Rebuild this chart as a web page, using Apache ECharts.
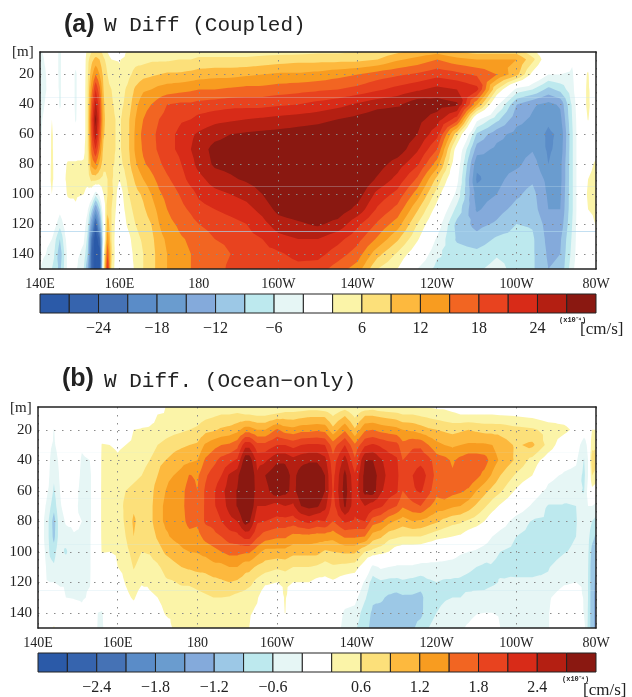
<!DOCTYPE html>
<html>
<head>
<meta charset="utf-8">
<script src="https://cdn.jsdelivr.net/npm/echarts@6/dist/echarts.min.js"></script>
<style>html,body{margin:0;padding:0;background:#fff}</style>
</head>
<body>
<div id="main" style="width:632px;height:697px"></div>
<script>
const lonLabels = ['140E', '160E', '180', '160W', '140W', '120W', '100W', '80W'];
const depthTicks = [20, 40, 60, 80, 100, 120, 140];
const depths = [5, 10, 20, 30, 40, 50, 60, 70, 80, 90, 100, 110, 120, 130, 140, 150];

const barLabelsA = ['', '', '−24', '', '−18', '', '−12', '', '−6', '', '', '6', '', '12', '', '18', '', '24', '', ''];
const barLabelsB = ['', '', '−2.4', '', '−1.8', '', '−1.2', '', '−0.6', '', '', '0.6', '', '1.2', '', '1.8', '', '2.4', '', ''];

// band edges
const levelsA = [3, 6, 9, 12, 15, 18, 21, 24, 27];
const levelsB = [0.3, 0.6, 0.9, 1.2, 1.5, 1.8, 2.1, 2.4, 2.7];
const warmColors = ['#fbf4a8', '#fce07a', '#fdb93e', '#f89c20', '#f26522', '#e8431f', '#d82b18', '#b41f12', '#8a1811'];
const coolColors = ['#e6f6f5', '#bde9ee', '#9cc8e6', '#84aadb', '#6a9ccf', '#5a8cc8', '#4572b5', '#3664ae', '#2b5aa8'];

// (a) one line = one longitude, top to bottom in depth
const lonsA = [140, 143, 145, 147, 149, 151, 152, 153, 154, 155, 156, 157, 158, 160, 162, 164, 166, 168, 170, 172, 175, 178, 180, 184, 188, 192, 196, 200, 205, 210, 215, 220, 225, 230, 235, 240, 245, 250, 255, 260, 264, 268, 271, 274, 276, 278, 280];
const profilesA = [
  [-3.5, -4, -5, -6.5, -6, -4.5, -4, -3.5, -2, -1, -1, -2, -2, -2, -2, -3],
  [-1, -1, -1, 0, 2, 3, 3.5, 3.5, 3.5, 3.5, 3, 2, 0, -3, -4, -6],
  [-3.5, -3.5, -3.5, -3.5, -3.5, -2, -1, -0.5, 0.5, 0.5, -1, -2, -5, -9, -11, -10],
  [0, 0, 0, 0, 0, 0, 0, 1, 3.5, 4, 3.5, 1, 0, -1, -2, -2],
  [0, -2, -3.5, -3.5, -3.5, -3.3, -2, 1, 3.5, 3.8, 3.5, 2.5, 0, -1, -2, -2.5],
  [1, 1, 1, 1, 1, 1, 1, 2, 3.5, 3.8, 3, 0, -1, -2.5, -4, -6],
  [4, 5, 5.5, 6, 6, 6, 6, 6, 5, 4, 2, -2.5, -5, -7, -9, -12],
  [6, 8, 11, 14, 17, 19, 18, 16, 13, 7, 0, -8, -15, -22, -24, -24],
  [7, 10, 15, 21, 25, 28, 26, 21, 15, 7, -5, -15, -25, -30, -30, -30],
  [7, 9, 12, 16, 19, 20, 18, 15, 11, 6, -2, -9, -15, -24, -29, -30],
  [5, 6.5, 8, 9, 9.5, 10, 9.5, 8, 7, 5, 3, 0, -2, -2, 2, 4],
  [3, 5, 6, 6.5, 7, 7, 7, 6.5, 6, 6, 6, 8, 11, 14, 18, 22],
  [0.5, 3, 5, 6, 6.3, 6.5, 6.5, 6.5, 6.5, 6.5, 7, 6, 6, 6, 7, 6],
  [0, 2.8, 3.5, 4.5, 5, 5.5, 5.5, 5.5, 5, 3, 1, 0.5, -1, -2, -3, -2.5],
  [3.5, 4, 5, 6.5, 7, 8, 8, 8, 7.5, 6.5, 5.5, 4.5, 3.5, 1.5, 1, 1],
  [4, 5, 7, 9.5, 11, 12, 12.5, 12.5, 11.5, 9.5, 8, 7, 6, 5, 4, 3.5],
  [4, 5, 8, 11.5, 14, 15, 16, 15.5, 14.5, 12, 9.5, 8.5, 7.5, 6.5, 6, 6],
  [4, 5.5, 8.5, 12, 15, 16.5, 17, 17, 16, 14, 12, 10.5, 9, 8, 7.5, 7.5],
  [4.5, 5.5, 9, 13, 16.5, 18, 18.8, 18.5, 17.5, 16, 14.5, 13, 12, 11, 10.5, 10.5],
  [4.5, 5.5, 9.5, 13.5, 18, 19, 20, 20, 19, 17.5, 16, 15, 14, 12.5, 12, 12],
  [4.5, 6, 9.5, 14, 18.5, 20.5, 21.5, 21.5, 20.5, 19.5, 18, 17, 15.5, 14.5, 14, 13.5],
  [4.5, 6, 10, 14.5, 18.5, 21, 23.5, 24, 23, 22, 20, 18.5, 17, 15.5, 15, 15],
  [5, 6.5, 10.5, 15, 19, 22, 24.5, 25.5, 25, 23, 21.5, 20, 18, 16.5, 15.5, 16],
  [5, 6.5, 11, 15, 19.5, 23, 26, 28, 27.5, 25.5, 23, 21, 19, 18, 17, 17],
  [5, 6.5, 11, 15.5, 20, 23.5, 27, 28.5, 28, 26.5, 24, 22, 20, 18.5, 18, 18.5],
  [5, 6.5, 11.5, 16, 20, 24, 27.5, 29, 29, 27.5, 25, 23, 21, 20, 19.5, 19],
  [5, 7, 12, 16, 20, 24.5, 27.8, 30, 30, 28.5, 27, 25, 23, 21, 20, 19.5],
  [5, 7.5, 12.5, 16.5, 20.5, 25, 28, 30, 31, 31, 30, 28, 25.5, 23, 20.5, 19],
  [5, 8, 12.5, 17, 21, 25.5, 28.5, 31, 32, 32, 31, 29, 26.5, 24, 22, 20],
  [5.5, 8, 13, 17.5, 22, 26, 29, 31, 33, 33, 31.5, 29.5, 27.5, 24, 22, 19.5],
  [5.5, 8, 14, 18, 23, 27, 30, 31.5, 32.5, 32.5, 31, 29, 26, 22, 19.5, 16.5],
  [6, 8, 15, 19, 24.5, 28, 29.5, 31, 31, 30, 28.5, 26, 21.7, 19, 16.5, 13.5],
  [7, 9, 16.5, 20.5, 26, 29, 31, 30, 28.5, 26.5, 23, 20.5, 17.5, 14.5, 10, 6],
  [8.5, 11.5, 17.5, 22, 26.5, 29.5, 30, 29, 25.5, 23, 20, 17, 13.5, 9.5, 5.5, 3],
  [10, 13, 18.5, 23.5, 29, 28, 27, 24.5, 21.5, 17.5, 13.5, 9.5, 6, 3.5, 0.5, -3],
  [11, 15, 20, 25, 28.5, 25.5, 22, 18, 13.5, 8, 4.5, 1.5, -1, -3.5, -5.5, -7],
  [9, 13, 19, 24, 27.5, 19.5, 7, 1, -0.5, -2, -4, -7, -10, -9.5, -7.5, -7],
  [8, 12, 17.5, 22, 12.5, -2, -9.5, -13.5, -17.2, -18.6, -16.5, -15.5, -13, -11, -8, -6.5],
  [8, 12, 15, 6, -2, -8, -14, -15.7, -16.5, -16, -15, -13.2, -11.5, -8.5, -6.3, -5],
  [8, 12, 10, -4, -12, -14, -16, -16.5, -15.7, -13.5, -12.5, -11, -9, -7.8, -7, -7],
  [4, 7, 2, -6, -14.5, -15.5, -16.5, -15.3, -13.5, -12.5, -11, -10.5, -9.3, -8.5, -8.5, -8.5],
  [0, 0, -3, -10, -16, -17.5, -18.5, -18.5, -18, -16, -15.5, -15, -13.5, -13, -12.5, -12],
  [0, 0, -3, -8, -14.5, -16, -17.5, -17, -16, -16, -15.5, -15, -14, -12.5, -12, -11.5],
  [0, -2.5, -3.5, -4, -5.5, -6, -6.5, -6.5, -6.5, -6.5, -6.5, -6.5, -6, -5.5, -5, -4],
  [0, 0, 0.5, 0.5, 0.5, 0, 0, 0, 0, 0, 0, 0, 0, 0, 0, 0],
  [0, 1, 3.5, 3.8, 3.8, 3.2, 0.5, 1, 2, 3, 3.5, 3, 1, 0, 0, 0],
  [-3.2, -3.5, -3.5, -1, 0, 0, 0, 2, 3.5, 4, 4.5, 4, 3.2, 1, 0, 0]
];

// (b)
const lonsB = [140, 142, 143, 144, 145, 147, 149, 151, 153, 155, 156, 158, 160, 162, 164, 166, 168, 170, 172, 174, 176, 178, 180, 182, 184, 186, 188, 190, 192, 193, 195, 197, 200, 202, 204, 206, 208, 210, 212, 214, 217, 219.5, 222, 224, 226, 228, 230, 231.5, 234, 236, 238, 240, 242, 244, 246, 248, 250, 252, 254, 256, 260, 264, 268, 272, 275, 277, 278, 279, 280];
const profilesB = [
  [0, 0, 0, 0, 0, 0, 0, 0, 0, 0, 0, 0, 0, 0, 0, 0],
  [0, 0, 0, 0, 0, 0, -0.2, -0.32, -0.4, -0.4, -0.35, -0.3, -0.28, -0.1, 0, 0],
  [0, 0, -0.1, -0.25, -0.3, -0.35, -0.4, -0.55, -0.7, -0.7, -0.65, -0.5, -0.3, -0.1, 0, 0],
  [0, -0.1, -0.32, -0.35, -0.5, -0.55, -0.65, -0.8, -1.05, -1, -0.75, -0.55, -0.3, -0.2, 0, 0.35],
  [0, 0, -0.1, -0.2, -0.3, -0.35, -0.4, -0.45, -0.6, -0.6, -0.45, -0.35, -0.32, -0.2, 0, 0],
  [0, 0, 0, 0, 0, 0, 0, -0.1, -0.25, -0.45, -0.65, -0.4, -0.32, -0.3, -0.1, 0],
  [0, 0, 0, 0, 0, 0, -0.1, -0.2, -0.25, -0.32, -0.35, -0.35, -0.35, -0.32, -0.1, 0],
  [0, 0, 0, -0.25, -0.35, -0.4, -0.45, -0.4, -0.3, -0.32, -0.35, -0.35, -0.35, -0.35, -0.2, 0],
  [0, 0, 0, -0.15, -0.3, -0.35, -0.35, -0.35, -0.35, -0.33, -0.33, -0.33, -0.32, -0.25, 0, 0],
  [0, 0, 0, 0, 0, 0, 0, 0, 0, 0, 0, 0, 0, 0, -0.3, -0.32],
  [0, 0, 0.1, 0.32, 0.35, 0.35, 0.36, 0.36, 0.36, 0.35, 0.32, 0.1, 0, -0.1, -0.33, -0.35],
  [0, 0, 0.1, 0.3, 0.35, 0.4, 0.45, 0.4, 0.4, 0.35, 0.3, 0.05, 0, 0, -0.05, -0.1],
  [0, 0, 0.1, 0.28, 0.32, 0.4, 0.5, 0.5, 0.45, 0.4, 0.35, 0.3, 0.1, 0, 0, 0],
  [0, 0, 0.2, 0.3, 0.35, 0.5, 0.6, 0.65, 0.65, 0.6, 0.5, 0.4, 0.33, 0.2, 0, 0],
  [0, 0.1, 0.3, 0.33, 0.4, 0.55, 0.65, 0.85, 0.95, 0.9, 0.72, 0.62, 0.5, 0.35, 0.1, 0],
  [0, 0.15, 0.32, 0.35, 0.5, 0.6, 0.7, 0.75, 0.75, 0.7, 0.6, 0.5, 0.35, 0.1, 0, 0],
  [0, 0.2, 0.33, 0.4, 0.6, 0.72, 0.75, 0.78, 0.78, 0.7, 0.62, 0.5, 0.35, 0.25, 0.1, 0],
  [0.1, 0.3, 0.35, 0.6, 0.8, 0.9, 1.05, 1.1, 1.1, 0.95, 0.75, 0.55, 0.4, 0.3, 0.2, 0.1],
  [0.3, 0.33, 0.45, 0.7, 0.9, 1.15, 1.2, 1.25, 1.25, 1.15, 0.95, 0.7, 0.55, 0.38, 0.32, 0.2],
  [0.3, 0.35, 0.5, 0.8, 1, 1.2, 1.3, 1.32, 1.3, 1.25, 1.05, 0.8, 0.58, 0.4, 0.33, 0.32],
  [0.3, 0.35, 0.55, 0.85, 1.1, 1.3, 1.4, 1.42, 1.4, 1.3, 1.15, 0.9, 0.65, 0.42, 0.35, 0.33],
  [0.3, 0.4, 0.6, 0.9, 1.15, 1.52, 1.65, 1.65, 1.6, 1.4, 1.2, 0.95, 0.65, 0.45, 0.35, 0.33],
  [0.33, 0.45, 0.65, 0.95, 1.2, 1.45, 1.5, 1.55, 1.55, 1.4, 1.22, 1, 0.7, 0.5, 0.36, 0.33],
  [0.35, 0.5, 0.8, 1.25, 1.55, 1.75, 1.85, 1.85, 1.85, 1.6, 1.3, 1, 0.75, 0.55, 0.38, 0.33],
  [0.35, 0.55, 0.85, 1.4, 1.7, 1.95, 2.05, 2.05, 1.9, 1.7, 1.4, 1.1, 0.8, 0.6, 0.4, 0.33],
  [0.35, 0.6, 0.95, 1.5, 1.9, 2.1, 2.3, 2.25, 2.1, 1.8, 1.5, 1.1, 0.85, 0.6, 0.4, 0.33],
  [0.35, 0.6, 1, 1.55, 2, 2.45, 2.55, 2.5, 2.3, 1.95, 1.6, 1.2, 0.9, 0.58, 0.36, 0.33],
  [0.4, 0.65, 1.1, 1.7, 2.15, 2.6, 2.72, 2.72, 2.4, 2, 1.6, 1.2, 0.85, 0.5, 0.36, 0.33],
  [0.35, 0.6, 1.35, 2.3, 2.9, 3.2, 3.2, 3.1, 2.85, 2.2, 1.55, 1, 0.75, 0.45, 0.33, 0.33],
  [0.35, 0.6, 1.35, 2.3, 2.9, 3.15, 3.15, 3.05, 2.75, 2.2, 1.55, 1, 0.7, 0.4, 0.33, 0.3],
  [0.3, 0.55, 1.2, 1.9, 2.3, 2.45, 2.5, 2.4, 2.15, 1.85, 1.3, 0.85, 0.5, 0.33, 0.25, 0.1],
  [0.3, 0.55, 1.2, 1.9, 2.35, 2.7, 2.6, 2.4, 2.1, 1.65, 1.1, 0.75, 0.35, 0.1, 0, 0],
  [0.3, 0.65, 1.55, 2.1, 2.65, 2.95, 2.9, 2.3, 2, 1.55, 1.1, 0.65, 0.3, 0.1, 0.15, 0.1],
  [0.4, 0.7, 1.35, 2.1, 2.65, 2.85, 2.8, 2.4, 2, 1.55, 1.1, 0.7, 0.35, 0.33, 0.31, 0.1],
  [0.4, 0.7, 1.3, 2, 2.5, 2.6, 2.6, 2.35, 1.95, 1.4, 1, 0.6, 0.3, 0.1, 0, 0],
  [0.4, 0.75, 1.4, 2.1, 2.6, 2.85, 2.9, 2.7, 2.1, 1.4, 1, 0.6, 0.3, 0.1, 0, 0],
  [0.45, 0.8, 1.4, 2.15, 2.65, 3, 3.05, 2.8, 2.2, 1.4, 1, 0.6, 0.3, 0.05, 0, 0],
  [0.45, 0.8, 1.45, 2.15, 2.65, 3, 3, 2.75, 2.05, 1.35, 1, 0.55, 0.2, 0.1, 0, 0],
  [0.35, 0.8, 1.4, 2.1, 2.5, 2.7, 2.7, 2.5, 2.1, 1.35, 0.85, 0.45, 0.2, 0.1, 0, -0.1],
  [0.3, 0.55, 1, 1.65, 1.9, 2, 2.05, 1.95, 1.8, 1.3, 0.9, 0.55, 0.25, 0.1, -0.05, -0.1],
  [0.45, 0.85, 1.45, 2.1, 2.55, 2.8, 2.85, 2.75, 2.15, 1.55, 0.95, 0.5, 0.1, -0.15, -0.35, -0.4],
  [0.3, 0.5, 0.95, 1.55, 1.85, 2.15, 2.2, 2.2, 2.05, 1.55, 0.95, 0.45, 0.05, -0.2, -0.4, -0.55],
  [0.4, 0.85, 1.45, 2.05, 2.7, 2.8, 2.8, 2.4, 2.1, 1.5, 0.6, 0.1, -0.35, -0.55, -0.75, -0.8],
  [0.45, 0.85, 1.5, 2.15, 2.7, 2.85, 2.85, 2.25, 1.65, 1.05, 0.5, -0.4, -0.75, -0.85, -0.95, -1],
  [0.35, 0.8, 1.4, 2.05, 2.45, 2.55, 2.45, 2.15, 1.55, 0.95, 0.4, -0.25, -0.65, -0.85, -1, -1.05],
  [0.33, 0.75, 1.35, 1.95, 2.25, 2.3, 2.25, 1.95, 1.3, 0.7, 0.3, -0.3, -0.7, -0.95, -1.05, -1.05],
  [0.3, 0.7, 1.3, 1.9, 2.15, 2.2, 2.15, 1.8, 1.15, 0.65, 0.1, -0.35, -0.7, -1, -1.05, -1.05],
  [0.3, 0.6, 1.2, 1.6, 1.8, 1.85, 1.8, 1.55, 1.05, 0.6, 0.05, -0.35, -0.65, -0.95, -1, -1],
  [0.3, 0.6, 1.15, 1.75, 1.95, 2.1, 2.05, 1.7, 1.2, 0.6, 0.05, -0.35, -0.7, -0.95, -1, -0.95],
  [0.28, 0.55, 1.05, 1.75, 2, 2.3, 2.15, 1.8, 1.15, 0.6, 0, -0.4, -0.75, -1, -1, -0.75],
  [0.28, 0.5, 0.95, 1.5, 1.9, 2, 1.9, 1.55, 1.05, 0.5, -0.05, -0.4, -0.65, -0.7, -0.65, -0.6],
  [0.25, 0.45, 0.9, 1.3, 1.65, 1.7, 1.6, 1.35, 0.95, 0.4, -0.1, -0.4, -0.6, -0.65, -0.6, -0.55],
  [0.25, 0.4, 0.85, 1.2, 1.6, 1.7, 1.7, 1.35, 0.8, 0.35, -0.15, -0.4, -0.65, -0.62, -0.55, -0.45],
  [0.2, 0.35, 0.8, 1.15, 1.45, 1.55, 1.6, 1.25, 0.7, 0.3, -0.15, -0.45, -0.65, -0.6, -0.5, -0.4],
  [0.2, 0.3, 0.85, 1.2, 1.6, 1.7, 1.55, 1.2, 0.65, 0.25, -0.25, -0.5, -0.65, -0.6, -0.45, -0.35],
  [0.15, 0.3, 0.9, 1.25, 1.7, 1.75, 1.45, 1.05, 0.55, 0.1, -0.3, -0.55, -0.68, -0.55, -0.4, -0.25],
  [0.1, 0.3, 0.85, 1.25, 1.7, 1.6, 1.2, 0.85, 0.45, 0, -0.35, -0.6, -0.72, -0.5, -0.32, -0.15],
  [0.1, 0.3, 0.8, 1.25, 1.65, 1.4, 1, 0.65, 0.3, -0.1, -0.45, -0.65, -0.7, -0.5, -0.3, -0.1],
  [0.1, 0.3, 0.8, 1.2, 1.35, 1.15, 0.8, 0.45, 0.05, -0.3, -0.55, -0.62, -0.65, -0.45, -0.3, -0.15],
  [0.08, 0.28, 0.8, 1.05, 1.15, 0.9, 0.65, 0.25, -0.1, -0.45, -0.6, -0.65, -0.58, -0.42, -0.33, -0.3],
  [0.05, 0.25, 0.7, 0.86, 0.85, 0.55, 0.25, -0.05, -0.45, -0.6, -0.65, -0.7, -0.55, -0.4, -0.35, -0.32],
  [0, 0.2, 0.65, 0.97, 0.5, 0.3, -0.1, -0.35, -0.62, -0.68, -0.72, -0.7, -0.55, -0.35, -0.33, -0.32],
  [0, 0.1, 0.5, 0.5, 0.1, -0.2, -0.38, -0.62, -0.65, -0.72, -0.75, -0.62, -0.55, -0.35, -0.32, -0.32],
  [0, 0.1, 0.4, 0.05, -0.15, -0.35, -0.5, -0.62, -0.65, -0.68, -0.62, -0.45, -0.35, -0.1, 0, 0],
  [0, 0, 0.2, -0.1, -0.25, -0.4, -0.55, -0.6, -0.62, -0.6, -0.55, -0.4, -0.3, -0.1, 0, 0],
  [0, 0, -0.1, -0.5, -0.62, -0.68, -0.62, -0.45, -0.4, -0.4, -0.4, -0.38, -0.35, -0.33, -0.32, -0.2],
  [0, 0, -0.05, -0.2, -0.3, -0.3, -0.2, -0.3, -0.45, -0.5, -0.55, -0.58, -0.6, -0.6, -0.62, -0.65],
  [0, 0, 0.3, 0.5, 0.8, 0.6, 0.2, -0.3, -0.6, -0.8, -1, -1.1, -1.1, -1.1, -1.1, -1.1],
  [0, 0, 0.3, 0.55, 0.7, 0.5, 0.1, -0.4, -0.7, -0.95, -1.1, -1.2, -1.25, -1.3, -1.3, -1.3]
];

const tickFont = 'Liberation Serif';
const titleFont = 'Liberation Mono';

// all polygons of one band go in a single path, so no seams between them
echarts.graphic.registerShape('contourBand', echarts.graphic.extendShape({
  shape: { polys: [] },
  buildPath: function (ctx, shape) {
    shape.polys.forEach(function (pts) {
      ctx.moveTo(pts[0][0], pts[0][1]);
      for (let i = 1; i < pts.length; i++) ctx.lineTo(pts[i][0], pts[i][1]);
      ctx.closePath();
    });
  }
}));

// part of triangle where sign*(v-t) >= 0, corners are [lon, depth, v]
function clipTri(tri, t, sign) {
  const out = [];
  for (let i = 0; i < 3; i++) {
    const a = tri[i], b = tri[(i + 1) % 3];
    const fa = sign * (a[2] - t), fb = sign * (b[2] - t);
    if (fa >= 0) out.push([a[0], a[1]]);
    if ((fa >= 0) !== (fb >= 0)) {
      const k = fa / (fa - fb);
      out.push([a[0] + (b[0] - a[0]) * k, a[1] + (b[1] - a[1]) * k]);
    }
  }
  return out;
}

// filled contours, one item per band, drawn through the axes with api.coord
function contourSeries(lons, profiles, levels, axisIdx, lines) {
  const tris = [];
  for (let i = 0; i < lons.length - 1; i++) {
    for (let j = 0; j < depths.length - 1; j++) {
      const x0 = lons[i], x1 = lons[i + 1], y0 = depths[j], y1 = depths[j + 1];
      const v00 = profiles[i][j], v10 = profiles[i + 1][j], v01 = profiles[i][j + 1], v11 = profiles[i + 1][j + 1];
      const c = [(x0 + x1) / 2, (y0 + y1) / 2, (v00 + v10 + v01 + v11) / 4];
      const corners = [[x0, y0, v00], [x1, y0, v10], [x1, y1, v11], [x0, y1, v01]];
      for (let q = 0; q < 4; q++) tris.push([corners[q], corners[(q + 1) % 4], c]);
    }
  }
  const bands = [];
  levels.forEach(function (t, k) {
    bands.push([t, 1, k]);
    bands.push([-t, -1, k]);
  });
  return {
    type: 'custom',
    xAxisIndex: axisIdx,
    yAxisIndex: axisIdx,
    silent: true,
    z: 2,
    data: bands,
    renderItem: function (params, api) {
      const t = api.value(0), sign = api.value(1), k = api.value(2);
      const polys = [];
      tris.forEach(function (tri) {
        const poly = clipTri(tri, t, sign);
        if (poly.length >= 3) polys.push(poly.map(p => api.coord(p)));
      });
      const col = sign > 0 ? warmColors[k] : coolColors[k];
      return { type: 'contourBand', shape: { polys: polys }, style: { fill: col } };
    },
    markLine: {
      silent: true,
      symbol: 'none',
      animation: false,
      label: { show: false },
      data: lines
    }
  };
}

function barSeries(axisIdx) {
  const colors = coolColors.slice().reverse().concat(['#ffffff'], warmColors);
  return {
    type: 'custom',
    xAxisIndex: axisIdx,
    yAxisIndex: axisIdx,
    silent: true,
    data: colors.map((c, i) => [i, 0]),
    renderItem: function (params, api) {
      const i = api.value(0);
      const p0 = api.coord([i, 1]), p1 = api.coord([i + 1, 0]);
      return {
        type: 'rect',
        shape: { x: p0[0], y: p0[1], width: p1[0] - p0[0], height: p1[1] - p0[1] },
        style: { fill: colors[i], stroke: '#222', lineWidth: 1 }
      };
    }
  };
}

function faintLine(depth, color) {
  return { yAxis: depth, lineStyle: { color: color, width: 1, type: 'solid' } };
}

function mainX(grid) {
  return {
    type: 'value', gridIndex: grid, min: 140, max: 280, interval: 20, z: 5,
    axisLine: { show: true, onZero: false, lineStyle: { color: '#222', width: 1.5 } },
    axisTick: { show: false },
    axisLabel: {
      fontFamily: tickFont, fontSize: 14, color: '#222', margin: 8, hideOverlap: false,
      formatter: v => lonLabels[(v - 140) / 20]
    },
    splitLine: { show: true, lineStyle: { color: '#8a8a8a', width: 1, type: [1.5, 6.5] } }
  };
}
function mainY(grid) {
  return {
    type: 'value', gridIndex: grid, min: 5, max: 150, inverse: true, z: 5,
    axisLine: { show: true, onZero: false, lineStyle: { color: '#222', width: 1.5 } },
    axisTick: { show: false, customValues: depthTicks },
    axisLabel: { fontFamily: tickFont, fontSize: 15, color: '#222', margin: 6, customValues: depthTicks },
    splitLine: { show: true, lineStyle: { color: '#8a8a8a', width: 1, type: [1.5, 6.5] } }
  };
}
function frameX(grid) {
  return {
    type: 'value', gridIndex: grid, min: 140, max: 280, position: 'top', z: 5,
    axisLine: { show: true, onZero: false, lineStyle: { color: '#222', width: 1.5 } },
    axisTick: { show: false }, axisLabel: { show: false }, splitLine: { show: false }
  };
}
function frameY(grid) {
  return {
    type: 'value', gridIndex: grid, min: 5, max: 150, inverse: true, position: 'right', z: 5,
    axisLine: { show: true, onZero: false, lineStyle: { color: '#222', width: 1.5 } },
    axisTick: { show: false }, axisLabel: { show: false }, splitLine: { show: false }
  };
}
function barX(grid, labels) {
  return {
    type: 'value', gridIndex: grid, min: 0, max: 19, interval: 1,
    axisLine: { show: false }, axisTick: { show: false }, splitLine: { show: false },
    axisLabel: {
      fontFamily: tickFont, fontSize: 16, color: '#222', margin: 8, hideOverlap: false,
      formatter: v => labels[v]
    }
  };
}
function barY(grid) {
  return {
    type: 'value', gridIndex: grid, min: 0, max: 1,
    axisLine: { show: false }, axisTick: { show: false }, axisLabel: { show: false }, splitLine: { show: false }
  };
}
function txt(text, left, top, size, fam, weight) {
  return {
    text: text, left: left, top: top, padding: 0,
    textStyle: { fontFamily: fam, fontSize: size, fontWeight: weight || 'normal', color: '#222' }
  };
}

const option = {
  animation: false,
  backgroundColor: '#fff',
  title: [
    txt('(a)', 64, 13, 25, 'Liberation Sans', 'bold'),
    txt('W Diff (Coupled)', 104, 15, 21, titleFont),
    txt('[m]', 12, 45, 15, tickFont),
    txt('(x10⁻⁴)', 559, 317, 7, titleFont, 'bold'),
    txt('[cm/s]', 580, 321, 17, tickFont),
    txt('(b)', 62, 367, 25, 'Liberation Sans', 'bold'),
    txt('W Diff. (Ocean−only)', 104, 371, 21, titleFont),
    txt('[m]', 10, 401, 15, tickFont),
    txt('(x10⁻⁴)', 562, 676, 7, titleFont, 'bold'),
    txt('[cm/s]', 583, 682, 17, tickFont)
  ],
  grid: [
    { left: 40, top: 52, width: 556, height: 217 },
    { left: 40, top: 294, width: 556, height: 19 },
    { left: 38, top: 407, width: 558, height: 221 },
    { left: 38, top: 653, width: 558, height: 19 }
  ],
  xAxis: [mainX(0), barX(1, barLabelsA), mainX(2), barX(3, barLabelsB), frameX(0), frameX(2)],
  yAxis: [mainY(0), barY(1), mainY(2), barY(3), frameY(0), frameY(2)],
  series: [
    contourSeries(lonsA, profilesA, levelsA, 0, [
      faintLine(35, 'rgba(200,225,240,0.3)'),
      faintLine(95, 'rgba(200,225,240,0.3)'),
      faintLine(125, 'rgba(170,210,235,0.7)')
    ]),
    barSeries(1),
    contourSeries(lonsB, profilesB, levelsB, 2, [
      faintLine(35, 'rgba(200,230,240,0.12)'),
      faintLine(65, 'rgba(200,230,240,0.15)'),
      faintLine(95, 'rgba(200,230,240,0.25)'),
      faintLine(125, 'rgba(200,230,240,0.3)')
    ]),
    barSeries(3)
  ]
};

const chart = echarts.init(document.getElementById('main'), null, { renderer: 'canvas' });
chart.setOption(option);
</script>
</body>
</html>
